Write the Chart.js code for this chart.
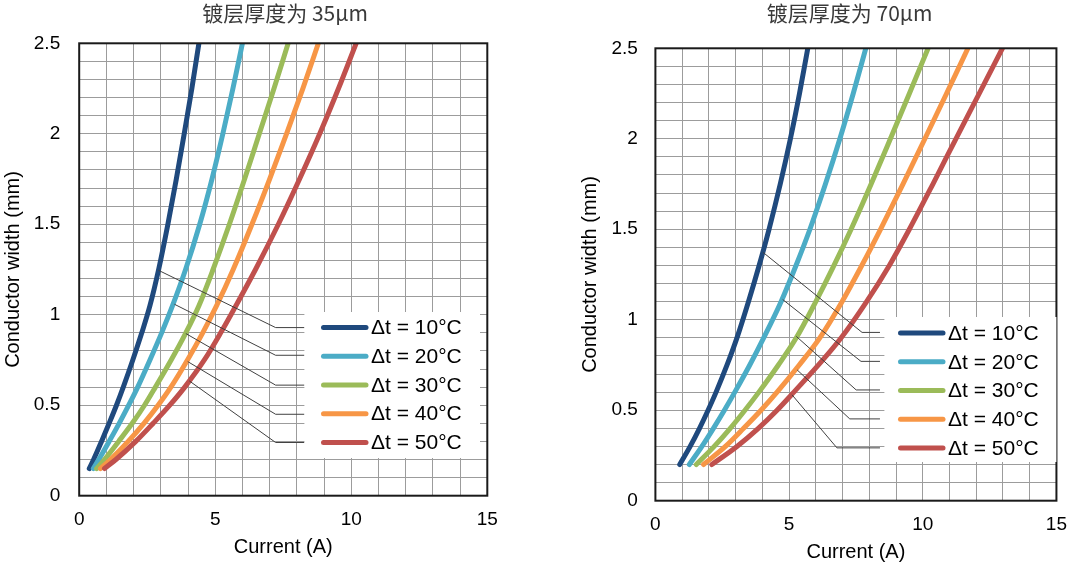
<!DOCTYPE html>
<html>
<head>
<meta charset="utf-8">
<script src="https://cdn.jsdelivr.net/npm/chart.js@4.4.1/dist/chart.umd.min.js"></script>
<style>
  body { margin: 0; background: #fff; }
  canvas { position: absolute; top: 0; }
  #chart35 { left: 0; }
  #chart70 { left: 540px; }
</style>
</head>
<body>
<canvas id="chart35" width="540" height="568"></canvas>
<canvas id="chart70" width="540" height="568"></canvas>
<script>
var seriesLabels = ["Δt = 10°C", "Δt = 20°C", "Δt = 30°C", "Δt = 40°C", "Δt = 50°C"]
var seriesColors = ["#1f497d", "#4bacc6", "#9bbb59", "#f79646", "#c0504d"]

// tick labels shown on the axes
var xLabelTicks = [0, 5, 10, 15]
var yLabelTicks = [0, 0.5, 1, 1.5, 2, 2.5]

// 35um plating: conductor width (mm) -> current (A) per delta t
var widths35 = [0.15, 0.2, 0.3, 0.4, 0.5, 0.6, 0.75, 0.9, 1.05, 1.25, 1.5, 1.75, 2.0, 2.25, 2.5]
var current35_10 = [0.37, 0.53, 0.82, 1.10, 1.37, 1.62, 1.97, 2.30, 2.60, 2.92, 3.26, 3.57, 3.86, 4.14, 4.40]
var current35_20 = [0.52, 0.72, 1.10, 1.47, 1.82, 2.15, 2.60, 3.03, 3.43, 3.91, 4.43, 4.88, 5.28, 5.65, 6.00]
var current35_30 = [0.64, 0.93, 1.45, 1.95, 2.40, 2.80, 3.38, 3.92, 4.40, 4.92, 5.52, 6.08, 6.62, 7.16, 7.68]
var current35_40 = [0.78, 1.15, 1.80, 2.38, 2.90, 3.37, 3.98, 4.54, 5.05, 5.66, 6.35, 7.00, 7.62, 8.22, 8.79]
var current35_50 = [0.93, 1.35, 2.08, 2.72, 3.33, 3.88, 4.60, 5.20, 5.76, 6.48, 7.32, 8.10, 8.84, 9.53, 10.18]

// 70um plating
var widths70 = [0.2, 0.3, 0.4, 0.5, 0.6, 0.75, 0.9, 1.1, 1.3, 1.5, 1.75, 2.0, 2.25, 2.5]
var current70_10 = [0.91, 1.30, 1.65, 1.97, 2.27, 2.68, 3.05, 3.48, 3.88, 4.25, 4.67, 5.05, 5.39, 5.70]
var current70_20 = [1.27, 1.74, 2.17, 2.58, 2.97, 3.53, 4.05, 4.70, 5.26, 5.78, 6.36, 6.90, 7.40, 7.87]
var current70_30 = [1.53, 2.20, 2.80, 3.35, 3.87, 4.60, 5.27, 6.00, 6.68, 7.32, 8.07, 8.79, 9.50, 10.20]
var current70_40 = [1.80, 2.62, 3.30, 3.95, 4.55, 5.38, 6.15, 6.98, 7.72, 8.42, 9.26, 10.08, 10.89, 11.69]
var current70_50 = [2.11, 3.05, 3.85, 4.55, 5.18, 6.10, 6.95, 7.90, 8.75, 9.50, 10.38, 11.24, 12.11, 12.98]

// leader lines from each curve to its legend row: [start, bend, end]
var leader35_x = [[2.91, 7.22, 8.28], [3.50, 7.22, 8.28], [3.92, 7.22, 8.28], [3.99, 7.22, 8.28], [4.05, 7.22, 8.28]]
var leader35_y = [[1.246, 0.929, 0.929], [1.058, 0.776, 0.776], [0.896, 0.611, 0.611], [0.741, 0.450, 0.450], [0.634, 0.294, 0.294]]
var leader70_x = [[4.03, 7.73, 8.40], [4.76, 7.69, 8.40], [5.27, 7.51, 8.40], [5.30, 7.27, 8.40], [5.11, 6.79, 8.40]]
var leader70_y = [[1.372, 0.930, 0.930], [1.112, 0.770, 0.770], [0.908, 0.612, 0.612], [0.723, 0.452, 0.452], [0.585, 0.292, 0.292]]

var fontLatin = '"Liberation Sans", Arial, sans-serif'

function gridTicks(max, step) {
  var t = []
  for (var i = 0; i * step <= max + 1e-9; i++) t.push({ value: Math.round(i * step * 10) / 10 })
  return t
}

function toPoints(xs, ys) {
  return xs.map((x, i) => { return { x: x, y: ys[i] } })
}

// white legend box with line swatches, drawn over the grid
var boxLegend = {
  id: 'boxLegend',
  afterDraw: function (chart, args, o) {
    var ctx = chart.ctx
    ctx.save()
    ctx.fillStyle = '#fff'
    ctx.fillRect(o.left, o.top, o.width, o.height)
    ctx.font = '21px ' + fontLatin
    ctx.textBaseline = 'middle'
    ctx.lineCap = 'round'
    ctx.lineWidth = 5
    for (var i = 0; i < seriesLabels.length; i++) {
      var y = o.firstRow + i * o.rowGap
      ctx.strokeStyle = seriesColors[i]
      ctx.beginPath()
      ctx.moveTo(o.swatchFrom, y)
      ctx.lineTo(o.swatchTo, y)
      ctx.stroke()
      ctx.fillStyle = '#000'
      ctx.fillText(seriesLabels[i], o.textX, y + 1)
    }
    ctx.restore()
  }
}

// black box round the plot area
var frame = {
  id: 'frame',
  afterDatasetsDraw: function (chart) {
    var a = chart.chartArea, ctx = chart.ctx
    ctx.save()
    ctx.strokeStyle = '#1a1a1a'
    ctx.lineWidth = 2
    ctx.strokeRect(a.left, a.top, a.right - a.left, a.bottom - a.top)
    ctx.restore()
  }
}

// move the title to a given centre
var titleCenter = {
  id: 'titleCenter',
  afterLayout: function (chart, args, o) {
    var t = chart.titleBlock
    if (!t || o.cx == null) return
    var w = t.right - t.left
    t.left = o.cx - w / 2
    t.right = o.cx + w / 2
  }
}

function makeChart(id, title, widths, currents, leaderX, leaderY, L) {
  var datasets = currents.map((c, i) => {
    return {
      label: seriesLabels[i],
      data: toPoints(c, widths),
      borderColor: seriesColors[i],
      borderWidth: 5,
      borderCapStyle: 'round',
      pointRadius: 0,
      cubicInterpolationMode: 'monotone',
      fill: false,
      clip: 0,
      order: 10 - i
    }
  })
  leaderX.forEach((xs, i) => {
    datasets.push({
      label: 'leader' + i,
      data: toPoints(xs, leaderY[i]),
      borderColor: '#404040',
      borderWidth: 1,
      pointRadius: 0,
      tension: 0,
      fill: false,
      order: 0
    })
  })

  new Chart(document.getElementById(id), {
    type: 'line',
    data: { datasets: datasets },
    plugins: [frame, boxLegend, titleCenter],
    options: {
      responsive: false,
      animation: false,
      layout: { padding: { left: 0, right: L.padRight, top: 0, bottom: 0 } },
      plugins: {
        legend: { display: false },
        tooltip: { enabled: false },
        title: {
          display: true,
          text: title,
          color: '#3a3a3a',
          font: { family: '"Noto Sans CJK SC", sans-serif', size: 21, weight: 'normal' },
          padding: { top: 0.8, bottom: L.titleGap }
        },
        titleCenter: { cx: L.titleCx },
        boxLegend: L.legend
      },
      scales: {
        x: {
          type: 'linear',
          min: 0,
          max: 15,
          afterBuildTicks: (axis) => { axis.ticks = gridTicks(15, 1) },
          afterFit: (axis) => { axis.height = L.xHeight },
          grid: { color: '#9c9c9c', lineWidth: 1, drawTicks: false },
          border: { display: false },
          ticks: {
            autoSkip: false,
            maxRotation: 0,
            padding: 13,
            color: '#000',
            font: { family: fontLatin, size: 19 },
            callback: (v) => xLabelTicks.indexOf(v) >= 0 ? String(v) : ''
          },
          title: {
            display: true,
            text: 'Current (A)',
            color: '#000',
            font: { family: fontLatin, size: 20 },
            padding: { top: 0, bottom: L.xTitlePad }
          }
        },
        y: {
          type: 'linear',
          min: 0,
          max: 2.5,
          afterBuildTicks: (axis) => { axis.ticks = gridTicks(2.5, 0.1) },
          afterFit: (axis) => { axis.width = L.yWidth },
          grid: { color: '#9c9c9c', lineWidth: 1, drawTicks: false },
          border: { display: false },
          ticks: {
            autoSkip: false,
            padding: L.yTickPad,
            color: '#000',
            font: { family: fontLatin, size: 19 },
            callback: (v) => yLabelTicks.indexOf(v) >= 0 ? String(v) : ''
          },
          title: {
            display: true,
            text: 'Conductor width (mm)',
            color: '#000',
            font: { family: fontLatin, size: 20 },
            padding: { top: L.yTitlePad, bottom: 0 }
          }
        }
      }
    }
  })
}

makeChart('chart35', '镀层厚度为 35μm', widths35,
  [current35_10, current35_20, current35_30, current35_40, current35_50],
  leader35_x, leader35_y, {
    padRight: 52.7, yWidth: 79.2, xHeight: 72.3, titleGap: 17.3, titleCx: 285,
    xTitlePad: 8.7, yTitlePad: 1, yTickPad: 19,
    legend: { left: 304.4, top: 312, width: 175.6, height: 146, swatchFrom: 323.5, swatchTo: 366, textX: 371, firstRow: 327.4, rowGap: 28.75 }
  })

makeChart('chart70', '镀层厚度为 70μm', widths70,
  [current70_10, current70_20, current70_30, current70_40, current70_50],
  leader70_x, leader70_y, {
    padRight: 16, yWidth: 115.4, xHeight: 67.3, titleGap: 22.3, titleCx: 309.6,
    xTitlePad: 3.7, yTitlePad: 38, yTickPad: 17.5,
    legend: { left: 344.4, top: 317, width: 172, height: 145, swatchFrom: 360.5, swatchTo: 403, textX: 408, firstRow: 333, rowGap: 28.75 }
  })
</script>
</body>
</html>
